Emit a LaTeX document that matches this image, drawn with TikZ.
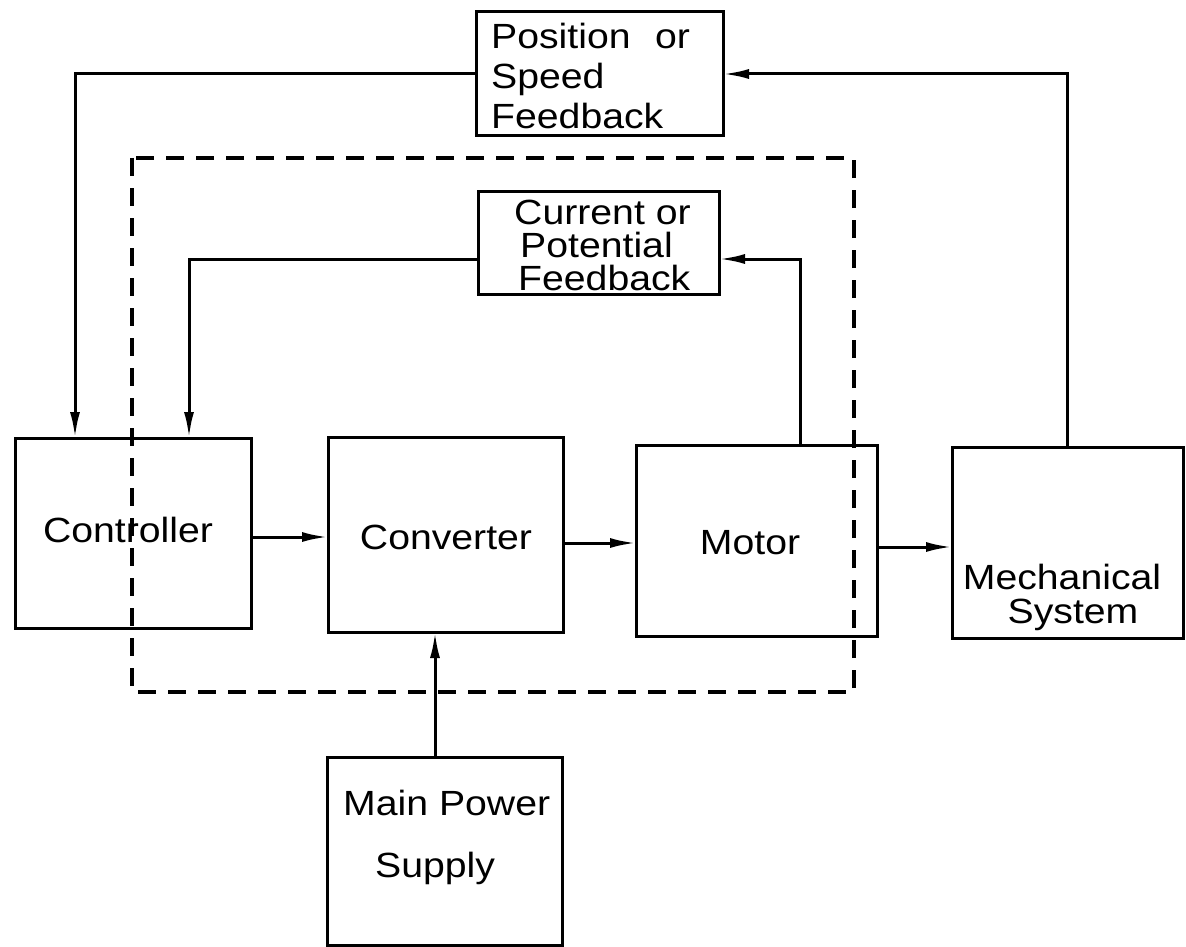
\documentclass[tikz,border=0pt]{standalone}
\usepackage{fontspec}
\setmainfont{Liberation Sans}
\newfontfamily\dgfont[FakeStretch=1.12]{Liberation Sans}
\usetikzlibrary{arrows.meta}
\tikzset{
  blk/.style={draw, line width=3pt, inner sep=0pt, outer sep=0pt, anchor=north west},
  lbl/.style={font=\dgfont\fontsize{35}{40}\selectfont, inner sep=0pt, align=left},
  arr/.style={draw, line width=3pt, -{Latex[length=26pt,width=10pt]}},
  enc/.style={line width=3.2pt, dash pattern=on 18pt off 12pt},
}
\begin{document}
\begin{tikzpicture}[x=1pt,y=-1pt]
\useasboundingbox (0,0) rectangle (1186,947);
% dashed enclosure
\draw[enc] (132,158) rectangle (854,692);
% boxes
\node[blk, minimum width=247pt, minimum height=124pt] (pos) at (476,12) {};
\node[blk, minimum width=241pt, minimum height=103pt] (cur) at (478,191) {};
\node[blk, minimum width=236pt, minimum height=190pt] (ctrl) at (15,438) {};
\node[blk, minimum width=235pt, minimum height=195pt] (conv) at (328,437) {};
\node[blk, minimum width=241pt, minimum height=191pt] (motor) at (636,445) {};
\node[blk, minimum width=231pt, minimum height=191pt] (mech) at (952,447) {};
\node[blk, minimum width=235pt, minimum height=188pt] (mps) at (327,757) {};
% texts
\node[lbl, anchor=west] (posT) at (491,76) {Position\hspace{0.7em}or\\Speed\\Feedback};
\node[lbl, anchor=west, font=\dgfont\fontsize{35}{33}\selectfont] (curT) at (514,245) {Current or\\\hspace*{6pt}Potential\\\hspace*{4pt}Feedback};
\node[lbl] (ctrlT) at (128,530) {Controller};
\node[lbl] (convT) at (446,537) {Converter};
\node[lbl] (motorT) at (750,543) {Motor};
\node[lbl, align=center, font=\dgfont\fontsize{35}{34}\selectfont] (mechT) at (1062,597) {Mechanical\\\hspace*{22pt}System};
\node[lbl, anchor=north west] (mpsT) at (343,790) {Main Power\\[22pt]\hspace*{32pt}Supply};
% coordinates for connector routes
\coordinate (c1) at (1067,74);
\coordinate (c2) at (75,74);
\coordinate (c3) at (800,259);
\coordinate (c4) at (189,259);
\coordinate (c5) at (0,537);
\coordinate (c6) at (0,543);
\coordinate (c7) at (0,547);
\coordinate (c8) at (435,0);
% connectors
\draw[arr] (mech.north -| c1) |- (pos.east |- c1);
\draw[arr] (pos.west |- c2) -| (ctrl.north -| c2);
\draw[arr] (motor.north -| c3) |- (cur.east |- c3);
\draw[arr] (cur.west |- c4) -| (ctrl.north -| c4);
\draw[arr] (ctrl.east |- c5) -- (conv.west |- c5);
\draw[arr] (conv.east |- c6) -- (motor.west |- c6);
\draw[arr] (motor.east |- c7) -- (mech.west |- c7);
\draw[arr] (mps.north -| c8) -- (conv.south -| c8);
\end{tikzpicture}
\end{document}
